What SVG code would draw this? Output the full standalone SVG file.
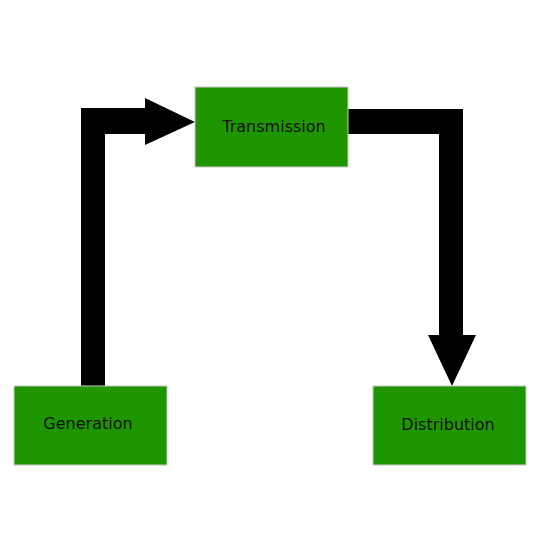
<svg xmlns="http://www.w3.org/2000/svg" width="540" height="540" viewBox="0 0 540 540">
<style>
.box{fill:#1f9600;stroke:#c8c8c8;stroke-width:1}
.lbl{font-family:"DejaVu Sans","Liberation Sans",sans-serif;font-size:16px;fill:#111;text-anchor:middle}
.arr{fill:#000}
</style>
<rect width="540" height="540" fill="#fff"/>
<g id="connectors">
<path class="arr" d="M81,386 L81,108 L145,108 L145,98 L195,122 L145,145 L145,134 L105,134 L105,386 Z"/>
<path class="arr" d="M348,109 L463,109 L463,335 L476,335 L452,386 L428,335 L439,335 L439,134 L348,134 Z"/>
</g>
<g id="transmission">
<rect class="box" x="195" y="87" width="153" height="80"/>
<text class="lbl" x="274" y="132">Transmission</text>
</g>
<g id="generation">
<rect class="box" x="14" y="386" width="153" height="79"/>
<text class="lbl" x="88" y="429">Generation</text>
</g>
<g id="distribution">
<rect class="box" x="373" y="386" width="153" height="79"/>
<text class="lbl" x="448" y="430">Distribution</text>
</g>
</svg>
